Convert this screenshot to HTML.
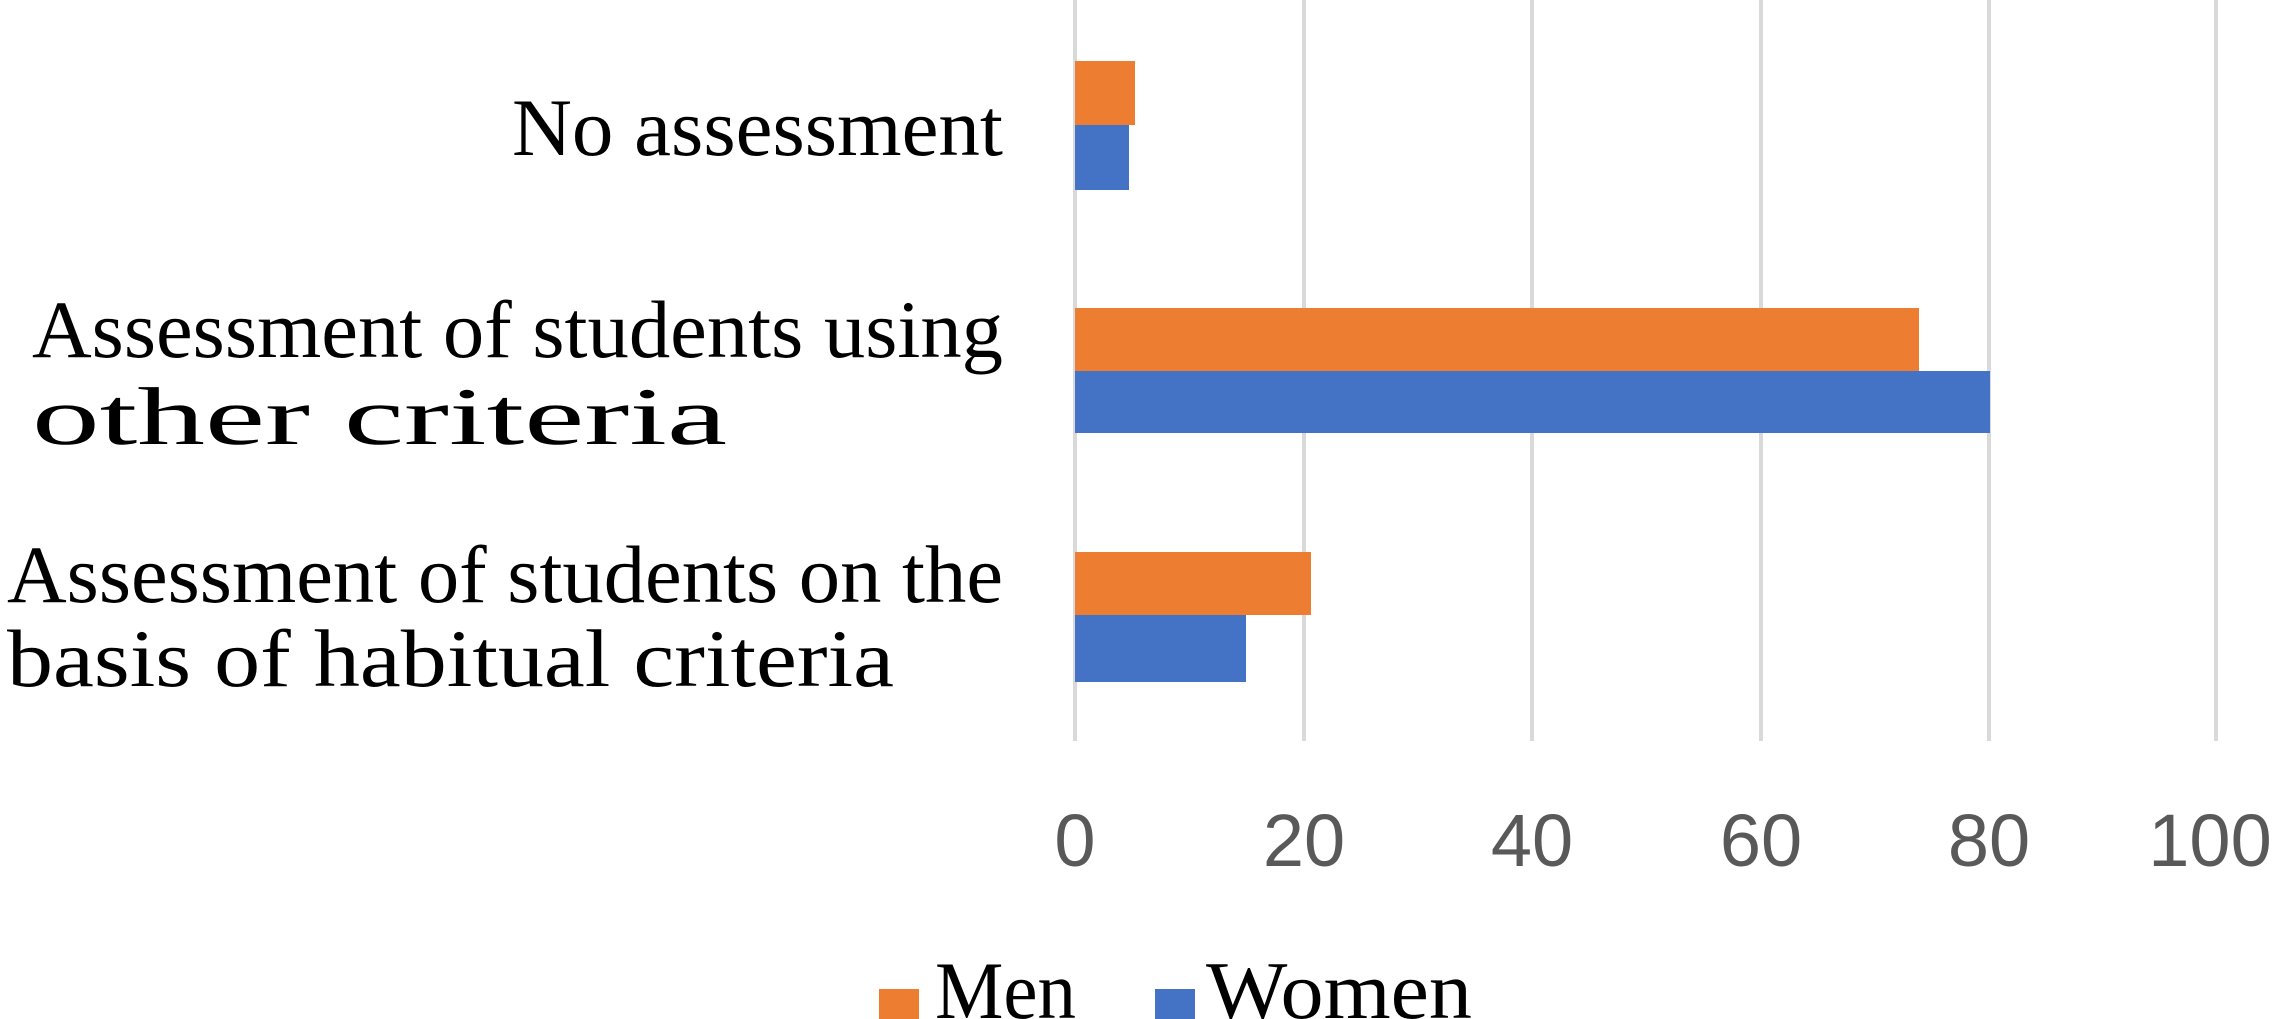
<!DOCTYPE html>
<html><head><meta charset="utf-8"><style>
body{margin:0;background:#fff}
svg{display:block}
.c{font-family:"Liberation Serif",serif;font-size:82px;fill:#000}
.t{font-family:"Liberation Sans",sans-serif;font-size:74px;fill:#595959}
</style></head><body>
<svg width="2279" height="1019" viewBox="0 0 2279 1019" xmlns="http://www.w3.org/2000/svg">
<g stroke="#d9d9d9" stroke-width="4">
<line x1="1075" y1="0" x2="1075" y2="741"/>
<line x1="1304" y1="0" x2="1304" y2="741"/>
<line x1="1532" y1="0" x2="1532" y2="741"/>
<line x1="1761" y1="0" x2="1761" y2="741"/>
<line x1="1989" y1="0" x2="1989" y2="741"/>
<line x1="2216" y1="0" x2="2216" y2="741"/>
</g>
<rect x="1075" y="61" width="60" height="64" fill="#ed7d31"/>
<rect x="1075" y="125" width="54" height="65" fill="#4472c4"/>
<rect x="1075" y="308" width="844" height="63" fill="#ed7d31"/>
<rect x="1075" y="371" width="915" height="62" fill="#4472c4"/>
<rect x="1075" y="552" width="236" height="63" fill="#ed7d31"/>
<rect x="1075" y="615" width="171" height="67" fill="#4472c4"/>
<text class="c" x="512" y="155" textLength="491" lengthAdjust="spacingAndGlyphs">No assessment</text>
<text class="c" x="32" y="357" textLength="971" lengthAdjust="spacingAndGlyphs">Assessment of students using</text>
<text class="c" x="32" y="444" textLength="695" lengthAdjust="spacingAndGlyphs">other criteria</text>
<text class="c" x="7" y="602" textLength="996" lengthAdjust="spacingAndGlyphs">Assessment of students on the</text>
<text class="c" x="7" y="686" textLength="887" lengthAdjust="spacingAndGlyphs">basis of habitual criteria</text>
<g class="t" text-anchor="middle">
<text x="1075" y="866">0</text>
<text x="1304" y="866">20</text>
<text x="1532" y="866">40</text>
<text x="1761" y="866">60</text>
<text x="1989" y="866">80</text>
<text x="2210" y="866">100</text>
</g>
<rect x="879" y="989" width="40" height="40" fill="#ed7d31"/>
<text class="c" x="935" y="1018" textLength="141" lengthAdjust="spacingAndGlyphs">Men</text>
<rect x="1155" y="989" width="40" height="40" fill="#4472c4"/>
<text class="c" x="1206" y="1018" textLength="266" lengthAdjust="spacingAndGlyphs">Women</text>
</svg>
</body></html>
